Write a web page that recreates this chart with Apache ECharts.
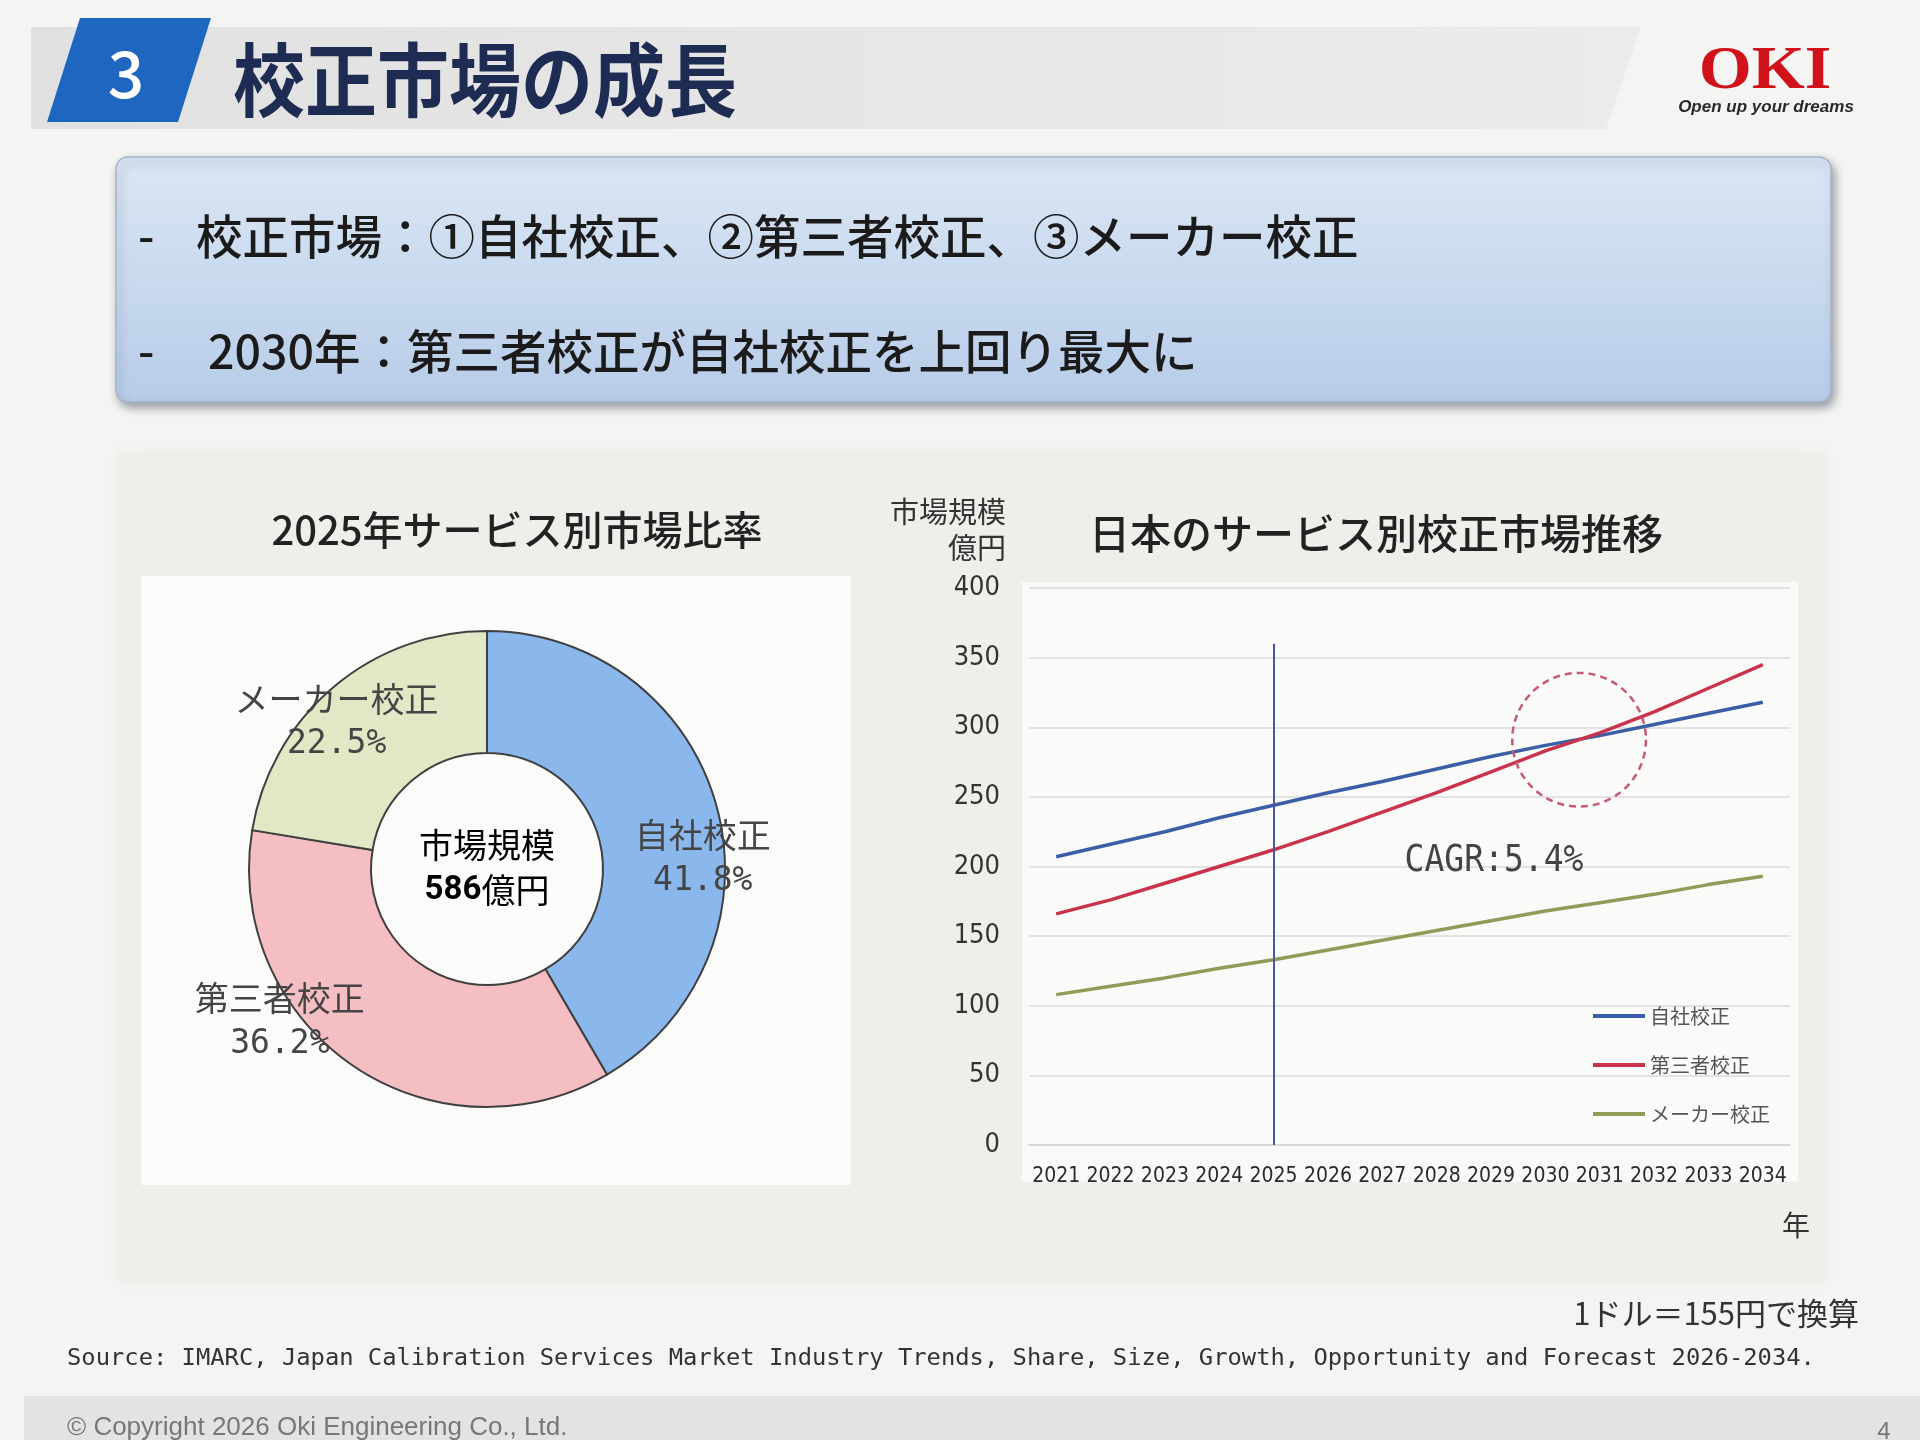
<!DOCTYPE html>
<html>
<head>
<meta charset="utf-8">
<script src="https://cdn.jsdelivr.net/npm/echarts@6/dist/echarts.min.js"></script>
<style>
  html, body { margin: 0; padding: 0; background: #f4f4f2; }
  #chart { width: 1920px; height: 1440px; }
</style>
</head>
<body>
<div id="chart"></div>
<script>
// ─── Data ─────────────────────────────────────────────────────────────────
const years = ['2021', '2022', '2023', '2024', '2025', '2026', '2027',
               '2028', '2029', '2030', '2031', '2032', '2033', '2034'];
const inHouse    = [207, 216, 225, 235, 244, 253, 261, 270, 279, 287, 294, 302, 310, 318];
const thirdParty = [166, 176, 188, 200, 212, 225, 239, 253, 268, 283, 296, 311, 328, 345];
const maker      = [108, 114, 120, 127, 133, 140, 147, 154, 161, 168, 174, 180, 187, 193];

const serviceNames = ['自社校正', '第三者校正', 'メーカー校正'];
const share2025 = [41.8, 36.2, 22.5];
const marketSize2025 = 586;

const markYear = '2025';      // vertical marker
const markTop = 360;          // marker line top (億円)
const crossYear = 9.62;       // crossing circle, as category index
const crossValue = 291;
const crossRadius = 48;       // in 億円 units

// ─── Styles ───────────────────────────────────────────────────────────────
const JP = "'Noto Sans CJK JP', sans-serif";
const NARROW = "'DejaVu Sans Condensed', 'Noto Sans CJK JP', sans-serif";
const MONO = "'DejaVu Sans Mono', monospace";

const lineColors = ['#3b5fa6', '#c9344c', '#8d9d58'];
const pieColors = ['#8ab7ec', '#f5bec3', '#e2e8c5'];
const pieLabelOffsets = [[42, 36], [-105, 4], [-34, -10]];

const chart = echarts.init(document.getElementById('chart'));

// ─── Chart options ────────────────────────────────────────────────────────
chart.setOption({
  animation: false,
  backgroundColor: '#f4f4f2',
  grid: {
    left: 1029, right: 130, top: 588, bottom: 295,
    show: true, backgroundColor: '#fafaf9', borderColor: 'transparent'
  },
  legend: {
    orient: 'vertical',
    left: 1588, top: 1001,
    icon: 'rect', itemWidth: 52, itemHeight: 4, itemGap: 29,
    textStyle: { fontFamily: JP, fontSize: 20, color: '#555' },
    data: serviceNames
  },
  xAxis: {
    type: 'category',
    data: years,
    boundaryGap: true,
    axisLine: { lineStyle: { color: '#d6d6d6', width: 1.5 } },
    axisTick: { show: false },
    axisLabel: {
      interval: 0, margin: 21,
      fontFamily: NARROW, fontSize: 21, color: '#2a2a2a'
    }
  },
  yAxis: {
    type: 'value',
    min: 0, max: 400, interval: 50,
    name: '市場規模\n億円',
    nameLocation: 'end',
    nameGap: 22,
    nameTextStyle: {
      fontFamily: JP, fontSize: 29, color: '#333', lineHeight: 36,
      align: 'right', verticalAlign: 'bottom', padding: [0, 23, 0, 0]
    },
    axisLine: { show: false },
    axisTick: { show: false },
    splitLine: { lineStyle: { color: '#dadada', width: 1.5 } },
    axisLabel: { margin: 29, fontFamily: NARROW, fontSize: 27, color: '#333' }
  },
  series: [
    {
      type: 'pie',
      silent: true,
      center: [487, 869],
      radius: [116, 238],
      startAngle: 90,
      clockwise: true,
      itemStyle: { borderColor: '#404040', borderWidth: 2 },
      labelLine: { show: false },
      label: {
        position: 'inside',
        formatter: p => `{n|${p.name}}\n{v|${p.value}%}`,
        rich: {
          n: { fontFamily: JP, fontSize: 34, color: '#454545', lineHeight: 46 },
          v: { fontFamily: MONO, fontSize: 33, color: '#454545', lineHeight: 46 }
        }
      },
      data: serviceNames.map((name, i) => ({
        name,
        value: share2025[i],
        itemStyle: { color: pieColors[i] },
        label: { offset: pieLabelOffsets[i] }
      }))
    },
    {
      name: serviceNames[0], type: 'line', data: inHouse,
      symbol: 'none', color: lineColors[0], lineStyle: { width: 3.5 },
      markLine: {
        silent: true, symbol: ['none', 'none'],
        label: { show: false },
        lineStyle: { color: '#4a589c', width: 2, type: 'solid' },
        data: [[{ coord: [markYear, 0] }, { coord: [markYear, markTop] }]]
      }
    },
    {
      name: serviceNames[1], type: 'line', data: thirdParty,
      symbol: 'none', color: lineColors[1], lineStyle: { width: 3.5 }
    },
    {
      name: serviceNames[2], type: 'line', data: maker,
      symbol: 'none', color: lineColors[2], lineStyle: { width: 3.5 }
    }
  ]
});

// ─── Slide decoration + annotations ───────────────────────────────────────
const i0 = Math.floor(crossYear);
const pA = chart.convertToPixel({ gridIndex: 0 }, [years[i0], crossValue]);
const pB = chart.convertToPixel({ gridIndex: 0 }, [years[i0 + 1], crossValue]);
const pR = chart.convertToPixel({ gridIndex: 0 }, [years[i0], crossValue + crossRadius]);
const cx = pA[0] + (pB[0] - pA[0]) * (crossYear - i0);
const cy = pA[1];
const cr = Math.abs(pA[1] - pR[1]);

function txt(x, y, text, font, fill, align, extra) {
  return Object.assign({
    type: 'text', x, y, z: 100,
    style: { text, font, fill, align: align || 'left', verticalAlign: 'middle' }
  }, extra || {});
}

chart.setOption({
  graphic: [
    // background panels
    { type: 'rect', z: -30, shape: { x: 118, y: 452, width: 1708, height: 830, r: 4 },
      style: { fill: '#eeeeeb', shadowBlur: 20, shadowColor: 'rgba(0,0,0,0.04)' } },
    { type: 'rect', z: -20, shape: { x: 141, y: 576, width: 710, height: 609 },
      style: { fill: '#fbfbfa' } },
    { type: 'rect', z: -20, shape: { x: 1022, y: 582, width: 776, height: 600 },
      style: { fill: '#f9f9f8' } },
    { type: 'rect', z: -20, shape: { x: 24, y: 1396, width: 1896, height: 44 },
      style: { fill: '#e3e3e2' } },

    // title band
    { type: 'polygon', z: -10,
      shape: { points: [[31, 27], [1641, 27], [1606, 129], [31, 129]] },
      style: { fill: new echarts.graphic.LinearGradient(0, 0, 1, 0, [
        { offset: 0, color: '#e1e1e1' }, { offset: 1, color: '#ebebeb' }]) } },
    { type: 'polygon', z: 10,
      shape: { points: [[80, 18], [211, 18], [178, 122], [47, 122]] },
      style: { fill: '#1f66c1' } },
    txt(126, 74, '3', `500 64px ${JP}`, '#ffffff', 'center'),
    txt(233, 80, '校正市場の成長', `bold 72px ${JP}`, '#1e2b52', 'left', { scaleY: 1.1 }),

    // OKI logo
    txt(1765, 72, 'OKI', "bold 62px 'Liberation Serif', serif", '#d0121b', 'center',
        { scaleX: 1.1 }),
    txt(1766, 107, 'Open up your dreams', "italic bold 17px 'Liberation Sans', sans-serif",
        '#2a2a2a', 'center'),

    // summary box
    { type: 'rect', z: 5,
      shape: { x: 116, y: 157, width: 1715, height: 245, r: 12 },
      style: {
        fill: new echarts.graphic.LinearGradient(0, 0, 0, 1, [
          { offset: 0, color: '#dbe6f3' },
          { offset: 0.5, color: '#c9daef' },
          { offset: 1, color: '#b8cce8' }]),
        stroke: '#a7b5c6', lineWidth: 1.5,
        shadowBlur: 10, shadowOffsetX: 3, shadowOffsetY: 5,
        shadowColor: 'rgba(40,50,70,0.45)'
      } },
    txt(138, 236, '-', `500 46px ${JP}`, '#1b1b1b'),
    txt(196, 236, '校正市場：①自社校正、②第三者校正、③メーカー校正', `500 46.5px ${JP}`, '#1b1b1b'),
    txt(138, 351, '-', `500 46px ${JP}`, '#1b1b1b'),
    txt(208, 351, '2030年：第三者校正が自社校正を上回り最大に', `500 46.5px ${JP}`, '#1b1b1b'),

    // chart titles
    txt(517, 530, '2025年サービス別市場比率', `500 40px ${JP}`, '#222', 'center'),
    txt(1376, 533, '日本のサービス別校正市場推移', `500 41px ${JP}`, '#222', 'center'),

    // donut centre
    { type: 'text', x: 487, y: 868, z: 100,
      style: {
        text: `{a|市場規模}\n{b|${marketSize2025}}{a|億円}`,
        align: 'center', verticalAlign: 'middle',
        rich: {
          a: { fontFamily: JP, fontSize: 34, color: '#333', lineHeight: 45 },
          b: { fontFamily: "'Roboto', sans-serif", fontWeight: 'bold', fontSize: 33,
               color: '#111', lineHeight: 45 }
        }
      } },

    // line-chart annotations
    { type: 'circle', z: 100, shape: { cx, cy, r: cr },
      style: { fill: 'none', stroke: '#c45a77', lineWidth: 2.5, lineDash: [7, 5] } },
    txt(1494, 861, 'CAGR:5.4%', `33px ${MONO}`, '#444', 'center', { scaleY: 1.15 }),
    txt(1796, 1225, '年', `28px ${JP}`, '#333', 'center'),

    // footnotes
    txt(1859, 1313, '1ドル＝155円で換算', `31px ${JP}`, '#333', 'right'),
    txt(67, 1359, 'Source: IMARC, Japan Calibration Services Market Industry Trends, Share, Size, Growth, Opportunity and Forecast 2026-2034.',
        `23.8px ${MONO}`, '#333'),
    txt(67, 1428, '© Copyright 2026 Oki Engineering Co., Ltd.', "26px 'Liberation Sans', sans-serif", '#777'),
    txt(1884, 1432, '4', "24px 'Liberation Sans', sans-serif", '#777', 'center')
  ]
});
</script>
</body>
</html>
